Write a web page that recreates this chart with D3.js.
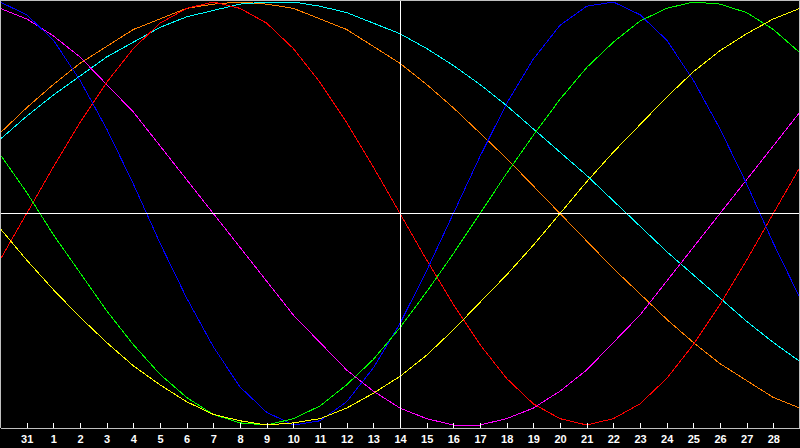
<!DOCTYPE html>
<html>
<head>
<meta charset="utf-8">
<script src="https://cdn.jsdelivr.net/npm/d3@7"></script>
<style>
    html, body {
        margin: 0;
        padding: 0;
        background: #000;
        overflow: hidden;
    }

    svg {
        display: block;
    }

    .axis text {
        font: bold 11px "Liberation Sans", Arial, sans-serif;
        fill: #fff;
    }

    .curve {
        fill: none;
        stroke-width: 1px;
        shape-rendering: crispEdges;
    }
</style>
</head>
<body>
<div id="chart"></div>
<script>
    // one point per day, -1 = the 30th of the previous month
    var days = [-1, 0, 1, 2, 3, 4, 5, 6, 7, 8, 9, 10, 11, 12, 13, 14, 15,
        16, 17, 18, 19, 20, 21, 22, 23, 24, 25, 26, 27, 28, 29];

    var tickDays = [0, 1, 2, 3, 4, 5, 6, 7, 8, 9, 10, 11, 12, 13, 14,
        15, 16, 17, 18, 19, 20, 21, 22, 23, 24, 25, 26, 27, 28];
    var tickLabels = ["31", "1", "2", "3", "4", "5", "6", "7", "8", "9", "10",
        "11", "12", "13", "14", "15", "16", "17", "18", "19", "20", "21",
        "22", "23", "24", "25", "26", "27", "28"];

    // cycle values, -1 .. 1
    var awareness = [0.38, 0.50, 0.61, 0.71, 0.79, 0.87, 0.92, 0.97, 0.99, 1.00, 0.99,
        0.97, 0.92, 0.87, 0.79, 0.71, 0.61, 0.50, 0.38, 0.26, 0.13, 0.00,
        -0.13, -0.26, -0.38, -0.50, -0.61, -0.71, -0.79, -0.87, -0.92];
    var spiritual = [0.35, 0.46, 0.56, 0.65, 0.74, 0.81, 0.88, 0.93, 0.96, 0.99, 1.00,
        1.00, 0.98, 0.95, 0.90, 0.85, 0.78, 0.70, 0.61, 0.51, 0.40, 0.29,
        0.18, 0.06, -0.06, -0.18, -0.29, -0.40, -0.51, -0.61, -0.70];
    var intuitive = [0.97, 0.92, 0.84, 0.74, 0.61, 0.48, 0.32, 0.16, 0.00, -0.16, -0.32,
        -0.48, -0.61, -0.74, -0.84, -0.92, -0.97, -1.00, -1.00, -0.97, -0.92, -0.84,
        -0.74, -0.61, -0.48, -0.32, -0.16, 0.00, 0.16, 0.32, 0.48];
    var emotional = [-0.22, 0.00, 0.22, 0.43, 0.62, 0.78, 0.90, 0.97, 1.00, 0.97, 0.90,
        0.78, 0.62, 0.43, 0.22, 0.00, -0.22, -0.43, -0.62, -0.78, -0.90, -0.97,
        -1.00, -0.97, -0.90, -0.78, -0.62, -0.43, -0.22, 0.00, 0.22];
    var physical = [1.00, 0.94, 0.82, 0.63, 0.40, 0.14, -0.14, -0.40, -0.63, -0.82, -0.94,
        -1.00, -0.98, -0.89, -0.73, -0.52, -0.27, 0.00, 0.27, 0.52, 0.73, 0.89,
        0.98, 1.00, 0.94, 0.82, 0.63, 0.40, 0.14, -0.14, -0.40];
    var intellectual = [0.28, 0.10, -0.10, -0.28, -0.46, -0.62, -0.76, -0.87, -0.95, -0.99, -1.00,
        -0.97, -0.91, -0.81, -0.69, -0.54, -0.37, -0.19, 0.00, 0.19, 0.37, 0.54,
        0.69, 0.81, 0.91, 0.97, 1.00, 0.99, 0.95, 0.87, 0.76];
    var aesthetic = [-0.07, -0.22, -0.36, -0.49, -0.61, -0.72, -0.81, -0.89, -0.95, -0.98, -1.00,
        -0.99, -0.97, -0.92, -0.85, -0.77, -0.67, -0.55, -0.42, -0.29, -0.15, 0.00,
        0.15, 0.29, 0.42, 0.55, 0.67, 0.77, 0.85, 0.92, 0.97];

    var series = [
        { values: awareness, color: "#ff8000" },
        { values: spiritual, color: "#00ffff" },
        { values: intuitive, color: "#ff00ff" },
        { values: emotional, color: "#ff0000" },
        { values: physical, color: "#0000ff" },
        { values: intellectual, color: "#00ff00" },
        { values: aesthetic, color: "#ffff00" }
    ];

    var width = 800, height = 448, axisY = 428;

    var svg = d3.select("#chart").append("svg")
        .attr("width", width)
        .attr("height", height)
        .style("background", "#000");

    var x = d3.scaleLinear().domain([-1, 29]).range([0, width]);
    var y = d3.scaleLinear().domain([-1, 1]).range([425, 2]);

    var line = d3.line()
        .x(function (d, i) { return x(days[i]); })
        .y(function (d) { return y(d); });

    svg.selectAll("path.curve")
        .data(series)
        .enter().append("path")
        .attr("class", "curve")
        .attr("stroke", function (s) { return s.color; })
        .attr("d", function (s) { return line(s.values); });

    // crosshair through today and the zero line
    var midX = Math.floor(x(14)) + 0.5, midY = Math.floor(y(0)) + 0.5;
    svg.append("line")
        .attr("x1", 0).attr("x2", width)
        .attr("y1", midY).attr("y2", midY)
        .attr("stroke", "#fff")
        .attr("shape-rendering", "crispEdges");
    svg.append("line")
        .attr("x1", midX).attr("x2", midX)
        .attr("y1", 0).attr("y2", axisY)
        .attr("stroke", "#fff")
        .attr("shape-rendering", "crispEdges");

    // grey frame
    svg.append("path")
        .attr("d", "M0.5," + axisY + "V0.5H" + (width - 0.5) + "V" + axisY)
        .attr("fill", "none")
        .attr("stroke", "#c0c0c0")
        .attr("shape-rendering", "crispEdges");

    var xAxis = d3.axisBottom(x)
        .tickValues(tickDays)
        .tickFormat(function (d, i) { return tickLabels[i]; })
        .tickSize(-5)
        .tickSizeOuter(0)
        .tickPadding(7);

    var gAxis = svg.append("g")
        .attr("class", "axis")
        .attr("transform", "translate(0," + axisY + ")")
        .call(xAxis);

    gAxis.select(".domain")
        .attr("stroke", "#c0c0c0")
        .attr("shape-rendering", "crispEdges");
    gAxis.selectAll(".tick line")
        .attr("stroke", "#fff")
        .attr("shape-rendering", "crispEdges");
</script>
</body>
</html>
